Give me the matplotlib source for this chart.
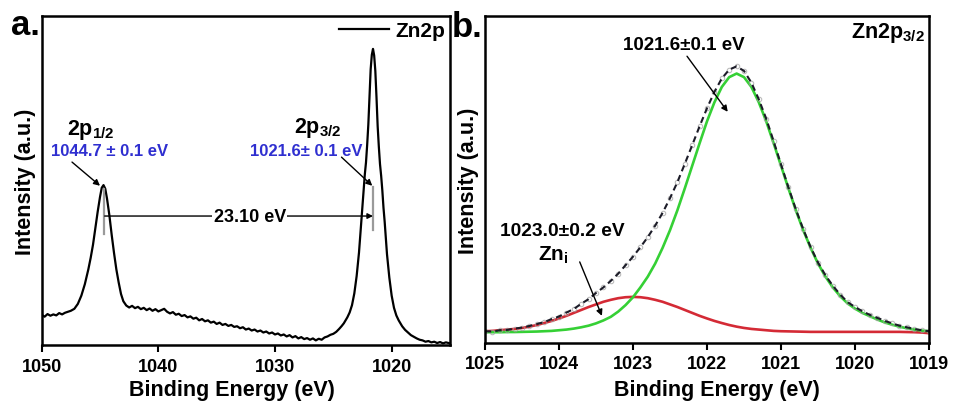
import matplotlib
matplotlib.use("Agg")
import matplotlib.pyplot as plt

plt.rcParams.update({
    "font.family": ["Liberation Sans", "DejaVu Sans"],
    "font.weight": "bold",
    "mathtext.fontset": "custom",
    "mathtext.rm": "Liberation Sans:bold",
    "mathtext.it": "Liberation Sans:bold",
    "mathtext.bf": "Liberation Sans:bold",
    "mathtext.default": "rm",
})

# ---- (a) Zn 2p survey spectrum: binding energy (eV) and intensity (a.u.) ----
be_survey = [
    1050.0, 1049.75, 1049.5, 1049.25, 1049.0, 1048.75, 1048.5, 1048.25, 1048.0, 1047.75,
    1047.5, 1047.2, 1046.9, 1046.6, 1046.3, 1046.0, 1045.8, 1045.6, 1045.4, 1045.2,
    1045.0, 1044.85, 1044.7, 1044.55, 1044.4, 1044.2, 1044.0, 1043.8, 1043.6, 1043.4,
    1043.2, 1043.0, 1042.75, 1042.5, 1042.25, 1042.0, 1041.75, 1041.5, 1041.25, 1041.0,
    1040.75, 1040.5, 1040.25, 1040.0, 1039.75, 1039.5, 1039.25, 1039.0, 1038.75, 1038.5,
    1038.25, 1038.0, 1037.75, 1037.5, 1037.25, 1037.0, 1036.75, 1036.5, 1036.25, 1036.0,
    1035.75, 1035.5, 1035.25, 1035.0, 1034.75, 1034.5, 1034.25, 1034.0, 1033.75, 1033.5,
    1033.25, 1033.0, 1032.75, 1032.5, 1032.25, 1032.0, 1031.75, 1031.5, 1031.25, 1031.0,
    1030.75, 1030.5, 1030.25, 1030.0, 1029.75, 1029.5, 1029.25, 1029.0, 1028.75, 1028.5,
    1028.25, 1028.0, 1027.75, 1027.5, 1027.25, 1027.0, 1026.75, 1026.5, 1026.25, 1026.0,
    1025.75, 1025.5, 1025.25, 1025.0, 1024.75, 1024.5, 1024.3, 1024.1, 1023.8, 1023.6,
    1023.4, 1023.2, 1023.0, 1022.8, 1022.6, 1022.5, 1022.4, 1022.3, 1022.2, 1022.1,
    1022.0, 1021.9, 1021.8, 1021.7, 1021.6, 1021.5, 1021.4, 1021.3, 1021.2, 1021.1,
    1021.0, 1020.9, 1020.8, 1020.7, 1020.6, 1020.4, 1020.2, 1020.0, 1019.8, 1019.6,
    1019.4, 1019.1, 1018.85, 1018.6, 1018.35, 1018.1, 1017.85, 1017.6, 1017.35, 1017.1,
    1016.85, 1016.6, 1016.35, 1016.1, 1015.85, 1015.6, 1015.35, 1015.0,
]
counts_survey = [
    9.2, 8.6, 9.4, 8.9, 9.3, 9.0, 9.7, 9.3, 9.8, 10.1,
    10.4, 11.0, 12.5, 15.0, 18.5, 23.0, 26.5, 30.5, 35.5, 40.5,
    45.0, 47.8, 48.6, 47.5, 44.5, 39.5, 33.5, 28.0, 23.0, 19.0,
    15.5, 13.3, 12.0, 11.4, 11.9, 11.2, 11.6, 10.9, 11.3, 10.6,
    11.1, 10.4, 10.9, 10.2, 10.6, 11.0, 10.1, 9.6, 10.0, 9.2,
    9.5, 8.8, 9.1, 8.4, 8.7, 8.0, 8.3, 7.5, 7.9, 7.2,
    7.5, 6.8, 7.1, 6.4, 6.8, 6.1, 6.4, 5.8, 6.1, 5.5,
    5.7, 5.1, 5.4, 4.7, 5.0, 4.4, 4.7, 4.1, 4.4, 3.8,
    4.1, 3.5, 3.8, 3.2, 3.5, 2.9, 3.2, 2.6, 3.0, 2.3,
    2.7, 2.0, 2.4, 1.8, 2.1, 1.6, 2.0, 1.4, 1.9, 1.6,
    2.3, 2.6, 3.1, 3.4, 4.0, 4.9, 5.7, 6.6, 8.4, 9.9,
    12.1, 15.7, 21.0, 28.1, 37.5, 42.2, 47.0, 51.9, 55.5, 60.8,
    67.0, 75.8, 83.8, 88.2, 90.0, 88.0, 83.3, 75.3, 66.5, 60.3,
    55.0, 51.4, 47.0, 41.7, 37.5, 27.6, 20.5, 15.0, 11.3, 9.0,
    7.5, 5.7, 4.6, 3.8, 3.0, 2.5, 2.0, 1.6, 1.4, 1.0,
    1.2, 0.8, 1.0, 0.6, 0.9, 0.5, 0.8, 0.5,
]
survey_ticks = [1050, 1040, 1030, 1020]
peak_2p12 = 1044.7
peak_2p32 = 1021.6
spin_orbit_split = 23.10

# ---- (b) Zn 2p3/2 high-resolution spectrum and its two fitted components ----
be_hr = [
    1025.0, 1024.9, 1024.8, 1024.7, 1024.6, 1024.5, 1024.4, 1024.3, 1024.2, 1024.1,
    1024.0, 1023.9, 1023.8, 1023.7, 1023.6, 1023.5, 1023.4, 1023.3, 1023.2, 1023.1,
    1023.0, 1022.9, 1022.8, 1022.7, 1022.6, 1022.5, 1022.4, 1022.3, 1022.2, 1022.1,
    1022.0, 1021.9, 1021.8, 1021.7, 1021.6, 1021.5, 1021.4, 1021.3, 1021.2, 1021.1,
    1021.0, 1020.9, 1020.8, 1020.7, 1020.6, 1020.5, 1020.4, 1020.3, 1020.2, 1020.1,
    1020.0, 1019.9, 1019.8, 1019.7, 1019.6, 1019.5, 1019.4, 1019.3, 1019.2, 1019.1,
    1019.0,
]
counts_hr = [
    3.6, 3.5, 3.9, 4.0, 4.4, 4.7, 5.2, 5.8, 6.4, 7.3,
    8.1, 9.3, 10.4, 12.0, 13.4, 15.3, 17.0, 19.0, 21.2, 23.8,
    26.4, 29.3, 32.4, 35.9, 39.8, 44.3, 49.2, 54.8, 60.5, 66.3,
    71.8, 76.8, 80.9, 83.6, 84.6, 83.2, 79.6, 74.5, 68.6, 61.7,
    54.6, 47.6, 40.9, 34.8, 29.3, 24.6, 20.7, 17.5, 14.8, 12.5,
    11.0, 9.7, 8.6, 7.7, 6.8, 6.0, 5.3, 4.8, 4.3, 3.9,
    3.6,
]
fit_lattice_zn = [
    3.3, 3.3, 3.3, 3.35, 3.35, 3.4, 3.45, 3.5, 3.6, 3.7,
    3.9, 4.1, 4.4, 4.8, 5.3, 6.0, 6.9, 8.0, 9.6, 11.6,
    14.0, 17.0, 20.3, 24.3, 29.1, 34.5, 40.6, 47.3, 54.2, 61.1,
    67.8, 73.6, 78.3, 81.3, 82.4, 81.3, 78.3, 73.6, 67.8, 61.1,
    54.2, 47.3, 40.6, 34.5, 29.1, 24.3, 20.3, 17.0, 14.3, 12.1,
    10.5, 9.2, 8.2, 7.2, 6.3, 5.6, 5.0, 4.5, 4.1, 3.8,
    3.6,
]
fit_zn_interstitial = [
    3.6, 3.7, 3.9, 4.1, 4.3, 4.6, 5.0, 5.5, 6.1, 6.75,
    7.5, 8.3, 9.2, 10.1, 11.0, 11.8, 12.6, 13.2, 13.7, 14.0,
    14.1, 14.0, 13.7, 13.2, 12.6, 11.8, 11.0, 10.1, 9.2, 8.3,
    7.5, 6.75, 6.1, 5.5, 5.0, 4.6, 4.3, 4.1, 3.9, 3.7,
    3.6, 3.55, 3.5, 3.45, 3.4, 3.4, 3.4, 3.4, 3.4, 3.4,
    3.4, 3.4, 3.4, 3.4, 3.4, 3.4, 3.4, 3.35, 3.3, 3.2,
    3.0,
]
hr_ticks = [1025, 1024, 1023, 1022, 1021, 1020, 1019]
peak_main = 1021.6
peak_zni = 1023.0

BLUE = "#2f2fd0"
arrow_kw = dict(arrowstyle="-|>", color="black", lw=1.0, mutation_scale=9,
                shrinkA=0, shrinkB=0)

fig = plt.figure(figsize=(9.56, 4.02), dpi=100)
axa = fig.add_axes([0.0436, 0.1393, 0.4271, 0.8184])
axb = fig.add_axes([0.5073, 0.1443, 0.4645, 0.8134])

for ax in (axa, axb):
    for s in ax.spines.values():
        s.set_linewidth(1.8)
    ax.set_yticks([])
    ax.set_ylim(0, 100)
    ax.tick_params(axis="x", direction="out", length=5, width=1.5,
                   labelsize=13, pad=4)
    ax.set_ylabel("Intensity (a.u.)", fontsize=15.5, fontweight="bold", labelpad=4)
    ax.set_xlabel("Binding Energy (eV)", fontsize=15.5, fontweight="bold")

axa.xaxis.set_label_coords(0.466, -0.103)
axb.xaxis.set_label_coords(0.522, -0.109)

# ---------- panel a ----------
axa.plot(be_survey, counts_survey, color="black", lw=1.6, label="Zn2p")
axa.set_xlim(1050, 1015)
axa.set_xticks(survey_ticks)
axa.legend(loc="upper right", frameon=False, fontsize=15, handlelength=2.4,
           handletextpad=0.3, borderaxespad=0.1, borderpad=0.15)

axa.text(1045.8, 65.7, "2p$_{1/2}$", fontsize=15.5, ha="center", va="center")
axa.text(1044.2, 59.0, f"{peak_2p12:.1f} \u00b1 0.1 eV", fontsize=12,
         color=BLUE, ha="center", va="center")
axa.annotate("", xy=(1045.0, 48.4), xytext=(1047.4, 55.6), arrowprops=arrow_kw)

axa.text(1026.3, 66.3, "2p$_{3/2}$", fontsize=15.5, ha="center", va="center")
axa.text(1027.3, 59.0, f"{peak_2p32:.1f}\u00b1 0.1 eV", fontsize=12,
         color=BLUE, ha="center", va="center")
axa.annotate("", xy=(1021.66, 48.4), xytext=(1024.3, 57.1), arrowprops=arrow_kw)

# peak position markers and the spin-orbit splitting
axa.plot([peak_2p12, peak_2p12], [33.7, 47.4], color="#9a9a9a", lw=1.6)
axa.plot([peak_2p32, peak_2p32], [35.0, 48.0], color="#9a9a9a", lw=1.6)
axa.annotate("", xy=(peak_2p32, 39.2), xytext=(peak_2p12 - 0.1, 39.2),
             arrowprops=dict(arrowstyle="-|>", color="black", lw=1.0,
                             mutation_scale=8, shrinkA=0, shrinkB=0))
axa.text((peak_2p12 + peak_2p32) / 2 - 1.0, 39.2, f"{spin_orbit_split:.2f} eV",
         fontsize=13, ha="center", va="center",
         bbox=dict(facecolor="white", edgecolor="none", pad=1.0))

# ---------- panel b ----------
axb.plot(be_hr, fit_zn_interstitial, color="#d42a35", lw=1.9)
axb.plot(be_hr, fit_lattice_zn, color="#35d035", lw=1.9)
axb.plot(be_hr, counts_hr, linestyle="none", marker="o", ms=3.2, mfc="none",
         mec="#a0a0a0", mew=0.8, alpha=0.7)
axb.plot(be_hr, counts_hr, color="#1c1c28", lw=1.5, linestyle=(0, (3, 2)))
axb.set_xlim(1025, 1019)
axb.set_xticks(hr_ticks)

axb.text(1022.32, 91.2, f"{peak_main:.1f}\u00b10.1 eV", fontsize=13.5,
         ha="center", va="center")
axb.annotate("", xy=(1021.72, 70.7), xytext=(1022.27, 87.7), arrowprops=arrow_kw)
axb.text(1019.05, 95.0, "Zn2p$_{3/2}$", fontsize=15.5, ha="right", va="center")
axb.text(1023.96, 34.3, f"{peak_zni:.1f}\u00b10.2 eV", fontsize=13.8,
         ha="center", va="center")
axb.text(1024.07, 27.0, "Zn$_{\\mathrm{i}}$", fontsize=15, ha="center", va="center")
axb.annotate("", xy=(1023.42, 8.3), xytext=(1023.72, 24.8), arrowprops=arrow_kw)

fig.text(0.012, 1 - 35 / 402, "a.", fontsize=25, fontweight="bold", va="baseline")
fig.text(0.473, 1 - 37 / 402, "b.", fontsize=25, fontweight="bold", va="baseline")

fig.savefig("out.png", dpi=100)
